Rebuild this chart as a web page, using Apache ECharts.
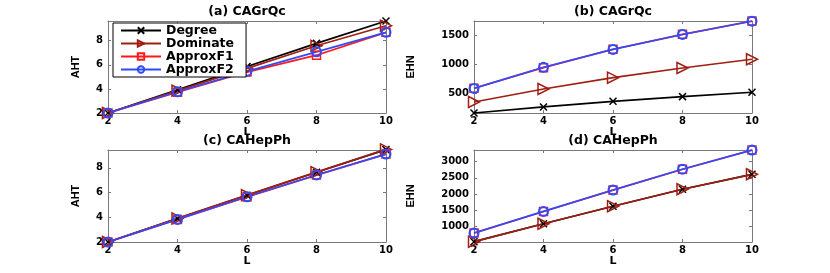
<!DOCTYPE html>
<html><head><meta charset="utf-8">
<script src="https://cdn.jsdelivr.net/npm/echarts@6/dist/echarts.min.js"></script>
<style>html,body{margin:0;padding:0;background:#fff}#c{width:830px;height:273px}</style>
</head><body><div id="c"></div>
<script>
// ---- data ----
var L = [2, 4, 6, 8, 10];
var seriesNames = ['Degree', 'Dominate', 'ApproxF1', 'ApproxF2'];
var panelTitles = ['(a) CAGrQc', '(b) CAGrQc', '(c) CAHepPh', '(d) CAHepPh'];
var yNames = ['AHT', 'EHN', 'AHT', 'EHN'];
var xTicks = [2, 4, 6, 8, 10];
var yTicksA = [2, 4, 6, 8];
var yTicksB = [500, 1000, 1500];
var yTicksC = [2, 4, 6, 8];
var yTicksD = [1000, 1500, 2000, 2500, 3000];
var yRangeA = [2, 9.64];
var yRangeB = [170, 1740];
var yRangeC = [2, 9.45];
var yRangeD = [520, 3360];
// (a) AHT CAGrQc
var aDegree   = [2.0, 3.93, 5.86, 7.78, 9.64];
var aDominate = [2.0, 3.86, 5.71, 7.58, 9.25];
var aApproxF1 = [2.0, 3.73, 5.40, 6.80, 8.70];
var aApproxF2 = [2.0, 3.76, 5.46, 7.08, 8.70];
// (b) EHN CAGrQc
var bDegree   = [170, 273, 370, 449, 524];
var bDominate = [358, 580, 773, 938, 1087];
var bApproxF1 = [592, 944, 1258, 1512, 1740];
var bApproxF2 = [590, 950, 1255, 1510, 1736];
// (c) AHT CAHepPh
var cDegree   = [2.0, 3.90, 5.79, 7.65, 9.48];
var cDominate = [2.0, 3.91, 5.80, 7.66, 9.50];
var cApproxF1 = [2.0, 3.83, 5.65, 7.42, 9.12];
var cApproxF2 = [2.0, 3.83, 5.66, 7.43, 9.12];
// (d) EHN CAHepPh
var dDegree   = [530, 1083, 1625, 2148, 2610];
var dDominate = [530, 1083, 1625, 2148, 2610];
var dApproxF1 = [794, 1462, 2123, 2765, 3360];
var dApproxF2 = [796, 1465, 2125, 2767, 3358];

var panelData = [
  [aDegree, aDominate, aApproxF1, aApproxF2],
  [bDegree, bDominate, bApproxF1, bApproxF2],
  [cDegree, cDominate, cApproxF1, cApproxF2],
  [dDegree, dDominate, dApproxF1, dApproxF2]
];
var yTicks = [yTicksA, yTicksB, yTicksC, yTicksD];
var yRanges = [yRangeA, yRangeB, yRangeC, yRangeD];

// ---- styles ----
var FONT = 'DejaVu Sans';
var AX = '#7a7a7a';
var colors = ['#000000', '#a01e12', '#ff1a1a', '#2f4bff'];
var symbols = [
  'path://M0,0L10,10M0,10L10,0',
  'path://M0,0L12,6L0,12Z',
  'rect',
  'circle'
];
var symSizes = [7, 11, 8, 9];
var grids = [
  {left: 108, top: 21, width: 278, height: 92},
  {left: 474, top: 21, width: 278, height: 92},
  {left: 108, top: 150, width: 278, height: 92},
  {left: 474, top: 150, width: 278, height: 92}
];
var titleCenters = [[247, 5], [613, 5], [247, 134], [613, 134]];

var xAxes = [], yAxes = [], series = [], titles = [];
grids.forEach(function (g, p) {
  g.show = false;
  ['bottom', 'top'].forEach(function (pos, k) {
    xAxes.push({
      type: 'value', gridIndex: p, position: pos, min: 2, max: 10, interval: 2,
      name: k === 0 ? 'L' : '', nameLocation: 'middle', nameGap: 10,
      nameTextStyle: {fontFamily: FONT, fontWeight: 'bold', fontSize: 11, color: '#000'},
      axisLine: {show: true, onZero: false, lineStyle: {color: AX, width: 1}},
      axisTick: {show: true, inside: true, length: 3, lineStyle: {color: AX}},
      axisLabel: {show: k === 0, margin: 3, fontFamily: FONT, fontWeight: 'bold', fontSize: 10, color: '#000',
                  formatter: function (v) { return xTicks.indexOf(v) >= 0 ? String(v) : ''; }},
      splitLine: {show: false}
    });
  });
  ['left', 'right'].forEach(function (pos, k) {
    yAxes.push({
      type: 'value', gridIndex: p, position: pos, min: yRanges[p][0], max: yRanges[p][1],
      name: k === 0 ? yNames[p] : '', nameLocation: 'middle', nameGap: p % 2 === 0 ? 27 : 58,
      nameTextStyle: {fontFamily: 'Liberation Sans', fontWeight: 'bold', fontSize: 11, color: '#000'},
      axisLine: {show: true, onZero: false, lineStyle: {color: AX, width: 1}},
      axisTick: {show: true, inside: true, length: 3, lineStyle: {color: AX}, customValues: yTicks[p]},
      axisLabel: {show: k === 0, margin: 5, fontFamily: FONT, fontWeight: 'bold', fontSize: 10, color: '#000',
                  customValues: yTicks[p], formatter: function (v) { return String(v); }},
      splitLine: {show: false}
    });
  });
  titles.push({
    text: panelTitles[p], left: titleCenters[p][0], top: titleCenters[p][1], textAlign: 'center', padding: 0,
    textStyle: {fontFamily: FONT, fontWeight: 'bold', fontSize: 12.5, color: '#000'}
  });
  panelData[p].forEach(function (vals, s) {
    series.push({
      name: seriesNames[s], type: 'line', xAxisIndex: p * 2, yAxisIndex: p * 2,
      data: L.map(function (x, i) { return [x, vals[i]]; }),
      clip: false, animation: false,
      symbol: symbols[s], symbolSize: symSizes[s], showAllSymbol: true,
      lineStyle: {color: colors[s], width: 1.7},
      itemStyle: {color: s === 0 ? colors[s] : 'rgba(255,255,255,0)', borderColor: colors[s], borderWidth: s === 3 ? 2 : 1.5},
      emphasis: {disabled: true}
    });
  });
});

var chart = echarts.init(document.getElementById('c'), null, {renderer: 'canvas'});
chart.setOption({
  backgroundColor: '#fff',
  animation: false,
  title: titles,
  grid: grids,
  xAxis: xAxes,
  yAxis: yAxes,
  legend: {
    show: true, selectedMode: false, orient: 'vertical', left: 113, top: 23,
    itemWidth: 40, itemHeight: 8, itemGap: 0,
    padding: [1, 12, 1, 7],
    borderColor: '#000', borderWidth: 1, backgroundColor: '#fff',
    textStyle: {fontFamily: FONT, fontWeight: 'bold', fontSize: 12.5, lineHeight: 9.5, color: '#000'},
    data: seriesNames
  },
  series: series
});
</script></body></html>
